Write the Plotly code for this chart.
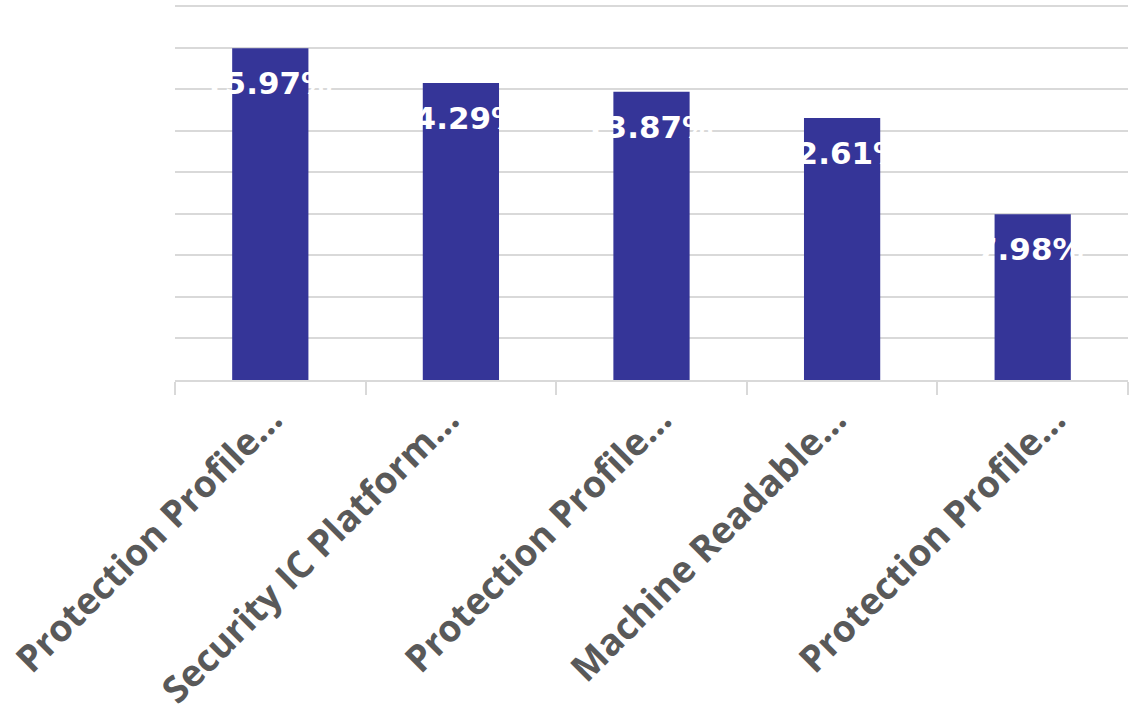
import plotly.graph_objects as go

categories = ["Protection Profile…", "Security IC Platform…", "Protection Profile…",
              "Machine Readable…", "Protection Profile…"]
values = [15.97, 14.29, 13.87, 12.61, 7.98]
value_labels = ["15.97%", "14.29%", "13.87%", "12.61%", "7.98%"]

x_pos = list(range(len(categories)))
# horizontal nudge (px) of each rotated category label's end, as in the source layout
label_dx = [24, 11, 32, 17, 45]

fig = go.Figure()
fig.add_trace(go.Bar(
    x=x_pos, y=values, width=0.4,
    marker=dict(color="#353598", line=dict(width=0)),
    hoverinfo="skip",
))

for xi, v, lab in zip(x_pos, values, value_labels):
    fig.add_annotation(x=xi, y=v, text=lab, showarrow=False, yshift=-35, xshift=-3,
                       xanchor="center", yanchor="middle",
                       font=dict(family="DejaVu Sans", size=31, color="white", weight="bold"))

for xi, cat, dx in zip(x_pos, categories, label_dx):
    fig.add_annotation(x=xi, y=0, text=cat, showarrow=False, textangle=-45,
                       xanchor="right", yanchor="top", xshift=dx, yshift=-11,
                       font=dict(family="Open Sans", size=37, color="#595959", weight="bold"))

fig.update_layout(
    width=1134, height=722,
    margin=dict(l=175, r=6, t=0, b=342),
    paper_bgcolor="white", plot_bgcolor="white",
    showlegend=False,
    bargap=0.6,
)
fig.update_xaxes(
    range=[-0.5, 4.5], automargin=False,
    tickmode="array", tickvals=x_pos, showticklabels=False,
    ticks="", showgrid=False,
    showline=True, linecolor="#d9d9d9", linewidth=2,
    minor=dict(tickmode="array", tickvals=[-0.5, 0.5, 1.5, 2.5, 3.5, 4.5],
               ticks="outside", ticklen=13, tickwidth=2, tickcolor="#d9d9d9", showgrid=False),
)
fig.update_yaxes(
    range=[0, 18.29], automargin=False,
    tickmode="array", tickvals=[2, 4, 6, 8, 10, 12, 14, 16, 18],
    showticklabels=False,
    showgrid=True, gridcolor="#d9d9d9", gridwidth=2, zeroline=False,
)

fig.write_html("out.html")
